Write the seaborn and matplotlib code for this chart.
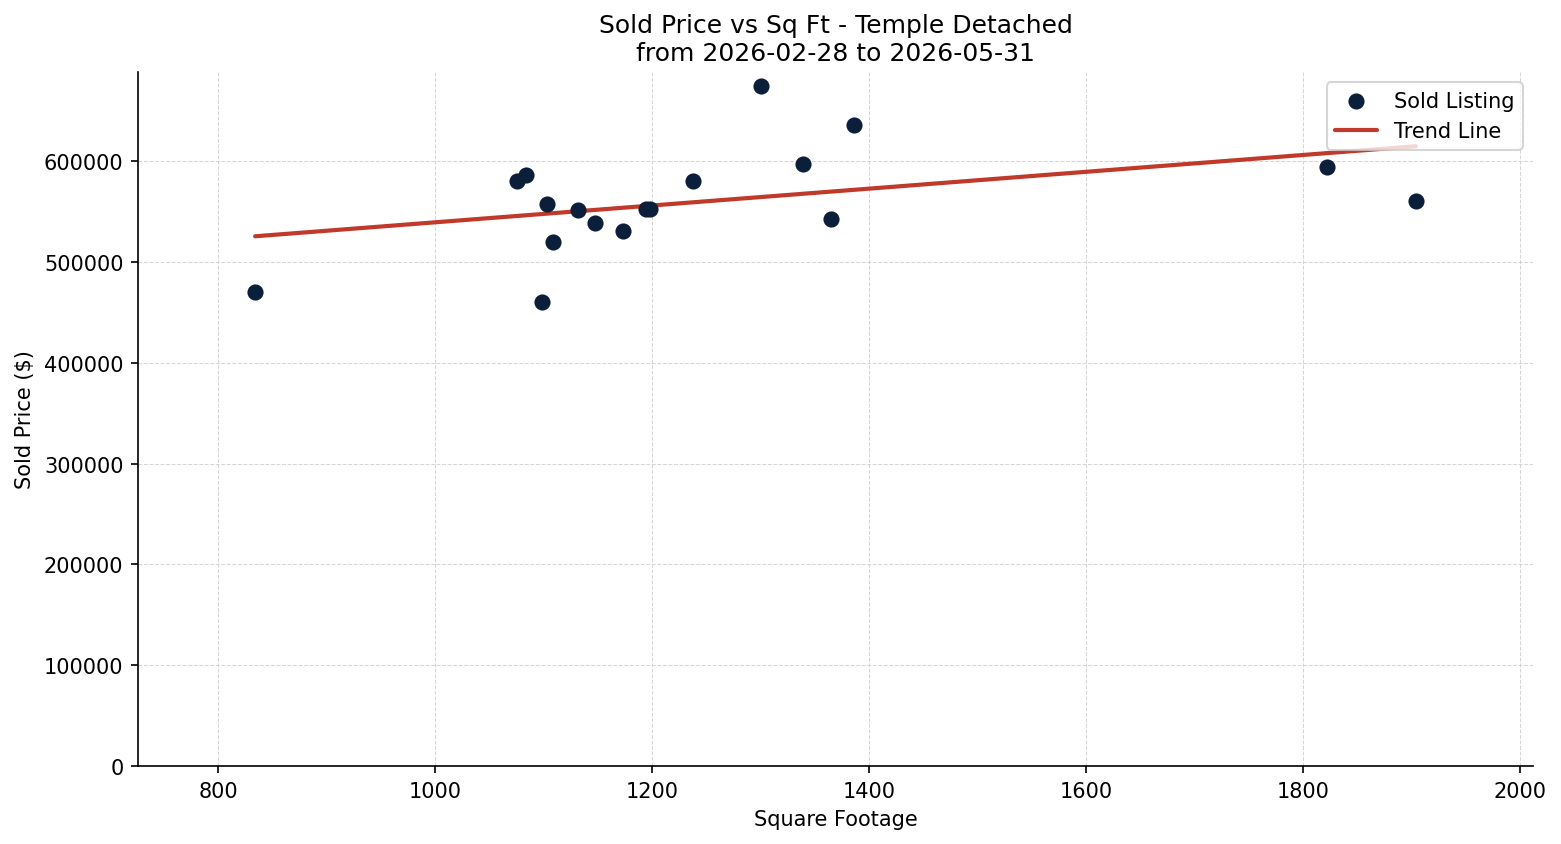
import numpy as np
import pandas as pd
import seaborn as sns
import matplotlib.pyplot as plt

# Sold listings
sqft = [834, 1075, 1084, 1103, 1109, 1098, 1132, 1147, 1173, 1194, 1198, 1238,
        1300, 1386, 1339, 1365, 1822, 1904]
price = [470000, 580000, 586000, 558000, 519500, 460000, 552000, 538500, 530500,
         552500, 552500, 580000, 675000, 635500, 597500, 543000, 594500, 560500]

df = pd.DataFrame({'sqft': sqft, 'price': price})

sns.set_style('ticks', {'axes.edgecolor': 'black', 'text.color': 'black',
                        'axes.labelcolor': 'black', 'xtick.color': 'black',
                        'ytick.color': 'black'})
plt.rcParams['font.family'] = ['DejaVu Sans']

fig, ax = plt.subplots(figsize=(10.407, 5.633), dpi=150)

sns.scatterplot(data=df, x='sqft', y='price', ax=ax, color='#0b1f3a', s=60,
                linewidth=0, label='Sold Listing', zorder=3)

# Linear trend
m, b = np.polyfit(df['sqft'], df['price'], 1)
xs = np.array([df['sqft'].min(), df['sqft'].max()])
ax.plot(xs, m * xs + b, color='#c0392b', linewidth=2, label='Trend Line', zorder=2)

ax.set_xlim(726, 2012)
ax.set_ylim(0, max(price) * 1.02)
ax.set_title('Sold Price vs Sq Ft - Temple Detached\nfrom 2026-02-28 to 2026-05-31', fontsize=12)
ax.set_xlabel('Square Footage')
ax.set_ylabel('Sold Price ($)')
ax.grid(True, linestyle='--', linewidth=0.5, color='#cccccc', alpha=0.8)
ax.legend(loc='upper right')
sns.despine(ax=ax)

fig.subplots_adjust(left=0.0884, right=0.982, top=0.9136, bottom=0.0923)
plt.savefig('out.png', dpi=150)
